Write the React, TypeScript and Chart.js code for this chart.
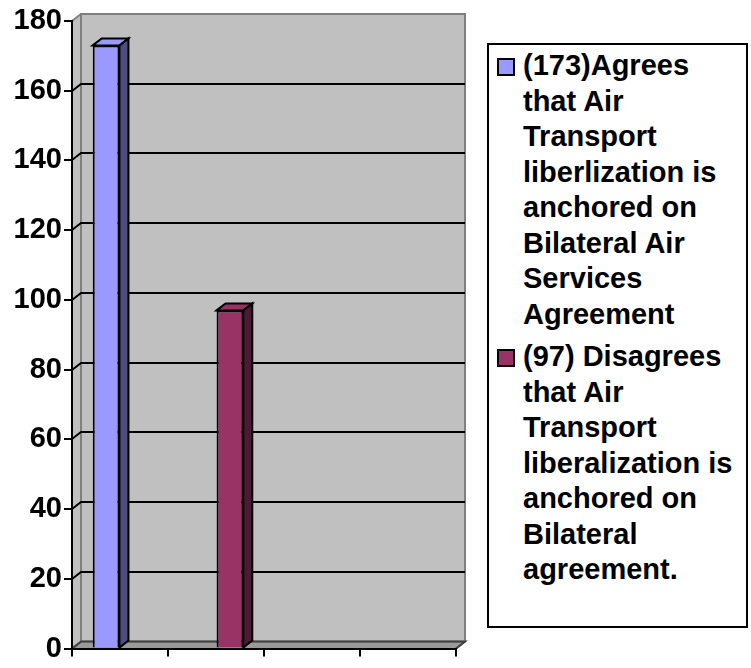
import React, { useEffect, useRef } from "react";
import { Chart, registerables } from "chart.js";

Chart.register(...registerables);

// ---- data ----
const categories = ["", "", "", ""];
const agreeValues = [173, null, null, null];
const disagreeValues = [null, 97, null, null];
const yMin = 0;
const yMax = 180;
const yStep = 20;
const agreeLabelLines = [
  "(173)Agrees",
  "that Air",
  "Transport",
  "liberlization is",
  "anchored on",
  "Bilateral Air",
  "Services",
  "Agreement",
];
const disagreeLabelLines = [
  "(97) Disagrees",
  "that Air",
  "Transport",
  "liberalization is",
  "anchored on",
  "Bilateral",
  "agreement.",
];

// ---- styles ----
const agreeColor = "#9999FF";
const agreeSide = "#4D4D80";
const disagreeColor = "#993366";
const disagreeSide = "#4D1A33";
const FONT = '"Liberation Sans", Arial, sans-serif';
const DX = 9;
const DY = 7;

const sideColors = [agreeSide, disagreeSide];

function poly(ctx: CanvasRenderingContext2D, pts: number[][]) {
  ctx.beginPath();
  ctx.moveTo(pts[0][0], pts[0][1]);
  for (let i = 1; i < pts.length; i++) ctx.lineTo(pts[i][0], pts[i][1]);
  ctx.closePath();
}

const wall3d = {
  id: "wall3d",
  beforeDraw(chart: any) {
    const { ctx, chartArea, scales } = chart;
    const L = chartArea.left;
    const R = chartArea.right;
    const T = chartArea.top;
    const B = chartArea.bottom;
    const y = scales.y;
    ctx.save();
    // back wall
    ctx.fillStyle = "#C0C0C0";
    ctx.fillRect(L + DX, T - DY, R - L, B - T);
    // left wall
    poly(ctx, [[L, B], [L + DX, B - DY], [L + DX, T - DY], [L, T]]);
    ctx.fillStyle = "#C0C0C0";
    ctx.fill();
    // floor
    poly(ctx, [[L, B], [L + DX, B - DY], [R + DX, B - DY], [R, B]]);
    ctx.fillStyle = "#9A9A9A";
    ctx.fill();
    // walls' borders
    ctx.strokeStyle = "#808080";
    ctx.lineWidth = 2;
    ctx.strokeRect(L + DX, T - DY, R - L, B - T);
    ctx.beginPath();
    ctx.moveTo(L, T);
    ctx.lineTo(L + DX, T - DY);
    ctx.stroke();
    // gridlines
    ctx.strokeStyle = "#000000";
    ctx.lineWidth = 2;
    for (let v = yMin + yStep; v < yMax; v += yStep) {
      const py = Math.round(y.getPixelForValue(v));
      ctx.beginPath();
      ctx.moveTo(L, py);
      ctx.lineTo(L + DX, py - DY);
      ctx.lineTo(R + DX, py - DY);
      ctx.stroke();
    }
    // floor edges
    ctx.strokeStyle = "#404040";
    ctx.beginPath();
    ctx.moveTo(L, B);
    ctx.lineTo(L + DX, B - DY);
    ctx.lineTo(R + DX, B - DY);
    ctx.lineTo(R, B);
    ctx.stroke();
    ctx.restore();
  },
  afterDatasetsDraw(chart: any) {
    const { ctx } = chart;
    ctx.save();
    ctx.lineWidth = 2;
    ctx.strokeStyle = "#000000";
    ctx.lineJoin = "miter";
    chart.data.datasets.forEach((ds: any, i: number) => {
      const meta = chart.getDatasetMeta(i);
      meta.data.forEach((el: any, j: number) => {
        if (ds.data[j] == null) return;
        const p = el.getProps(["x", "y", "base", "width"], true);
        const l = p.x - p.width / 2;
        const r = p.x + p.width / 2;
        // side face
        poly(ctx, [[r, p.y], [r + DX, p.y - DY], [r + DX, p.base - DY], [r, p.base]]);
        ctx.fillStyle = sideColors[i];
        ctx.fill();
        ctx.stroke();
        // top face
        poly(ctx, [[l, p.y], [l + DX, p.y - DY], [r + DX, p.y - DY], [r, p.y]]);
        ctx.fillStyle = ds.backgroundColor;
        ctx.fill();
        ctx.stroke();
      });
    });
    ctx.restore();
  },
};

function LegendItem({ color, lines, top }: { color: string; lines: string[]; top: number }) {
  return (
    <div style={{ position: "absolute", left: 8, top, display: "flex" }}>
      <div
        style={{
          width: 18,
          height: 18,
          boxSizing: "border-box",
          border: "2px solid #000",
          background: color,
          marginTop: 10,
          marginRight: 8,
          flex: "none",
        }}
      />
      <div>
        {lines.map((t, k) => (
          <div key={k} style={{ height: 35.5, lineHeight: "35.5px", whiteSpace: "nowrap" }}>
            {t}
          </div>
        ))}
      </div>
    </div>
  );
}

export default function App() {
  const ref = useRef<HTMLCanvasElement | null>(null);
  useEffect(() => {
    if (!ref.current) return;
    const chart = new Chart(ref.current, {
      type: "bar",
      data: {
        labels: categories,
        datasets: [
          {
            label: agreeLabelLines.join(" "),
            data: agreeValues,
            backgroundColor: agreeColor,
            borderColor: "#000",
            borderWidth: 2,
            categoryPercentage: 0.58,
            barPercentage: 0.96,
          },
          {
            label: disagreeLabelLines.join(" "),
            data: disagreeValues,
            backgroundColor: disagreeColor,
            borderColor: "#000",
            borderWidth: 2,
            categoryPercentage: 0.58,
            barPercentage: 0.96,
          },
        ] as any,
      },
      options: {
        responsive: false,
        animation: false,
        layout: { padding: { top: 21, right: 24, left: 0, bottom: 0 } },
        plugins: { legend: { display: false }, tooltip: { enabled: false } },
        scales: {
          x: {
            grid: {
              offset: true,
              drawOnChartArea: false,
              drawTicks: true,
              tickLength: 8,
              color: "#000",
              lineWidth: 2,
            },
            border: { display: true, color: "#000", width: 2 },
            ticks: { display: true, font: { size: 10 } },
            afterFit: (s: any) => {
              s.height = 18;
            },
          },
          y: {
            min: yMin,
            max: yMax,
            ticks: {
              stepSize: yStep,
              color: "#000",
              padding: 2,
              font: { family: FONT, size: 29, weight: "bold" },
            },
            grid: {
              drawOnChartArea: false,
              drawTicks: true,
              tickLength: 8,
              color: "#000",
              lineWidth: 2,
            },
            border: { display: true, color: "#000", width: 2 },
            afterFit: (s: any) => {
              s.width = 72;
            },
          },
        },
      } as any,
      plugins: [wall3d],
    });
    return () => chart.destroy();
  }, []);

  return (
    <div
      style={{
        position: "fixed",
        left: 0,
        top: 0,
        width: 751,
        height: 668,
        background: "#fff",
        overflow: "hidden",
      }}
    >
      <canvas ref={ref} width={480} height={668} style={{ position: "absolute", left: 0, top: 0 }} />
      <div
        style={{
          position: "absolute",
          left: 487,
          top: 43,
          width: 261,
          height: 585,
          boxSizing: "border-box",
          border: "2px solid #000",
          background: "#fff",
          fontFamily: FONT,
          fontWeight: "bold",
          fontSize: 29,
          color: "#000",
        }}
      >
        <LegendItem color={agreeColor} lines={agreeLabelLines} top={3} />
        <LegendItem color={disagreeColor} lines={disagreeLabelLines} top={294} />
      </div>
    </div>
  );
}
